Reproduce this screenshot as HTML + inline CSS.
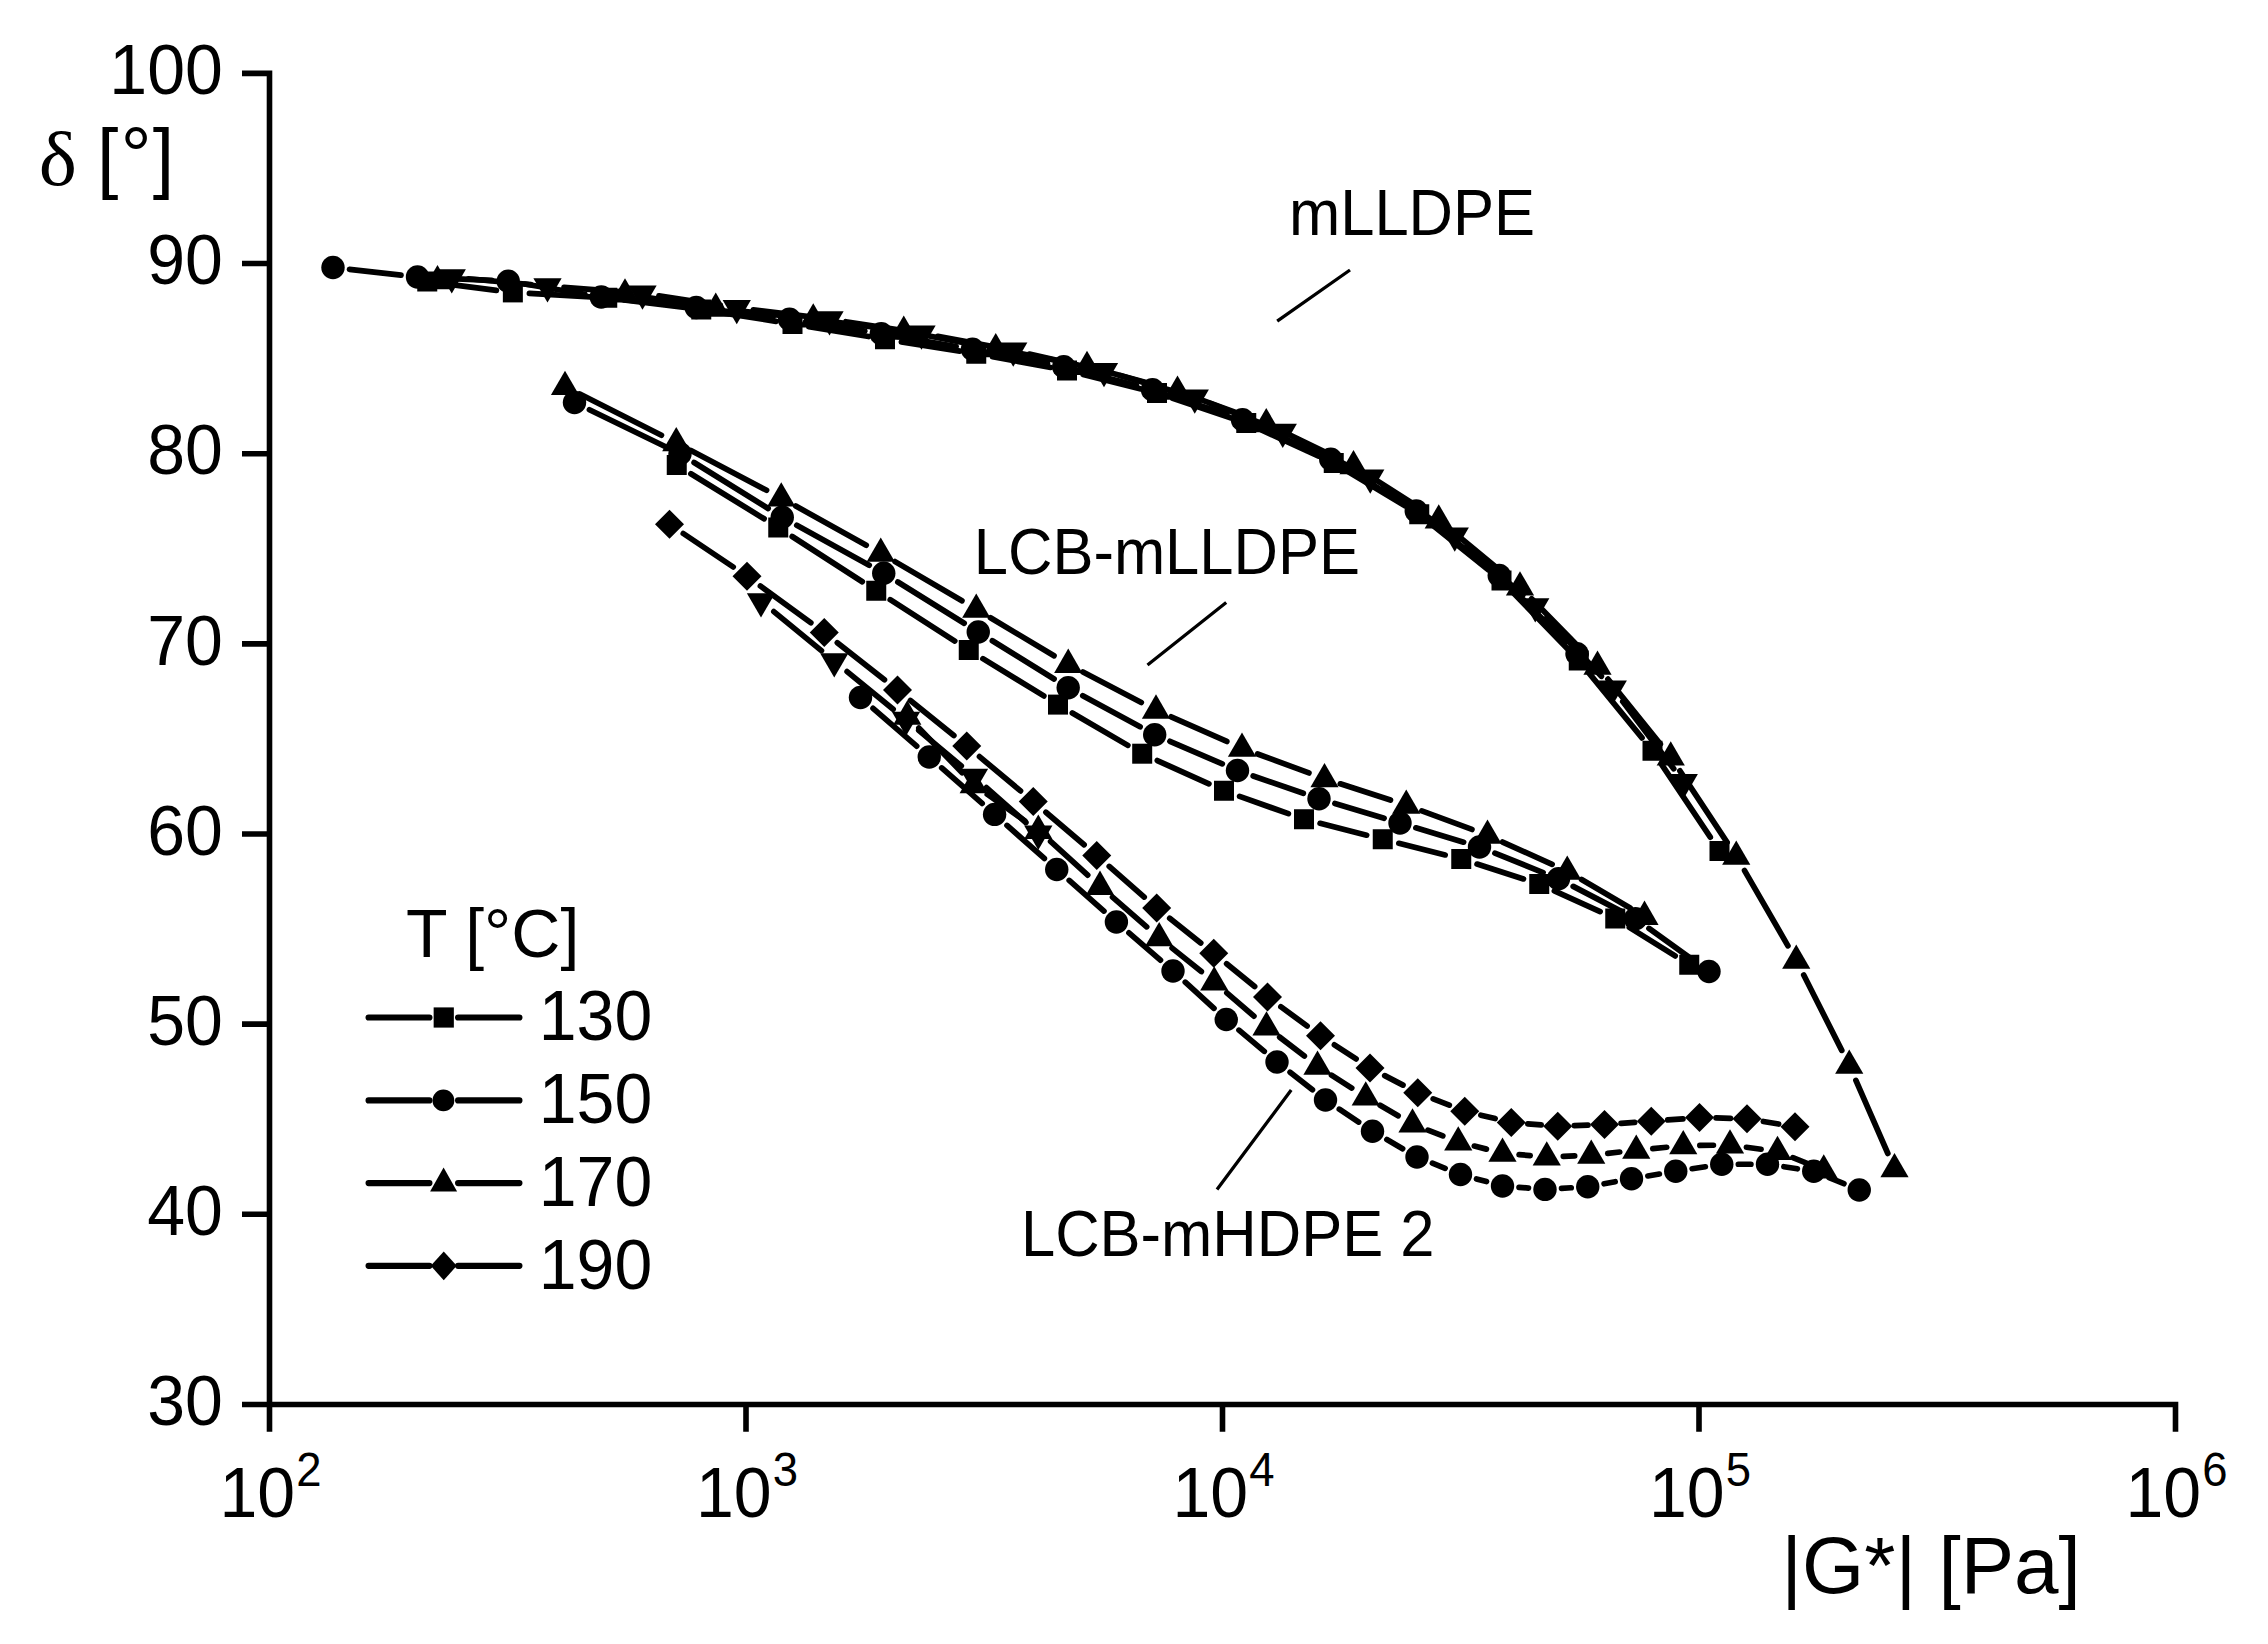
<!DOCTYPE html>
<html><head><meta charset="utf-8"><title>delta vs |G*|</title>
<style>
html,body{margin:0;padding:0;background:#fff;overflow:hidden}
svg{display:block}
.t{font-family:"Liberation Sans",Arial,Helvetica,sans-serif}
.ax{stroke:#000;stroke-width:5.6;fill:none;stroke-linecap:butt}
.ln{stroke:#000;stroke-width:5.7;fill:none;stroke-linecap:round}
.lg{stroke:#000;stroke-width:6.2;fill:none;stroke-linecap:round}
.ptr{stroke:#000;stroke-width:3.3;fill:none;stroke-linecap:butt}
</style></head><body>
<svg width="2268" height="1644" viewBox="0 0 2268 1644" fill="#000">
<rect width="2268" height="1644" fill="#fff"/>
<path class="ax" d="M269.5 70.55V1431.7M242 1404.45H2178.30M242 1214.30H269.5M242 1024.15H269.5M242 834.00H269.5M242 643.85H269.5M242 453.70H269.5M242 263.55H269.5M242 73.40H269.5M746.00 1404.45V1431.7M1222.50 1404.45V1431.7M1699.00 1404.45V1431.7M2175.50 1404.45V1431.7"/>
<text class="t" transform="translate(222.8 1425.2) scale(1 1.04)" font-size="68" text-anchor="end">30</text>
<text class="t" transform="translate(222.8 1235.0) scale(1 1.04)" font-size="68" text-anchor="end">40</text>
<text class="t" transform="translate(222.8 1044.9) scale(1 1.04)" font-size="68" text-anchor="end">50</text>
<text class="t" transform="translate(222.8 854.7) scale(1 1.04)" font-size="68" text-anchor="end">60</text>
<text class="t" transform="translate(222.8 664.6) scale(1 1.04)" font-size="68" text-anchor="end">70</text>
<text class="t" transform="translate(222.8 474.4) scale(1 1.04)" font-size="68" text-anchor="end">80</text>
<text class="t" transform="translate(222.8 284.2) scale(1 1.04)" font-size="68" text-anchor="end">90</text>
<text class="t" transform="translate(222.8 94.1) scale(1 1.04)" font-size="68" text-anchor="end">100</text>
<text class="t" transform="translate(219.5 1517.3) scale(1 1.04)" font-size="68">10</text>
<text class="t" transform="translate(296.3 1486.3) scale(1 1.04)" font-size="45.5">2</text>
<text class="t" transform="translate(696.0 1517.3) scale(1 1.04)" font-size="68">10</text>
<text class="t" transform="translate(772.8 1486.3) scale(1 1.04)" font-size="45.5">3</text>
<text class="t" transform="translate(1172.5 1517.3) scale(1 1.04)" font-size="68">10</text>
<text class="t" transform="translate(1249.3 1486.3) scale(1 1.04)" font-size="45.5">4</text>
<text class="t" transform="translate(1649.0 1517.3) scale(1 1.04)" font-size="68">10</text>
<text class="t" transform="translate(1725.8 1486.3) scale(1 1.04)" font-size="45.5">5</text>
<text class="t" transform="translate(2125.5 1517.3) scale(1 1.04)" font-size="68">10</text>
<text class="t" transform="translate(2202.3 1486.3) scale(1 1.04)" font-size="45.5">6</text>
<text transform="translate(38.7 185.2) scale(1 0.94)" font-family="'Liberation Serif','DejaVu Serif',serif" font-size="81">δ</text>
<text class="t" x="97.1 120.8 152.8" y="184.2 181.5 184.2" font-size="77">[°]</text>
<text class="t" x="1781.3" y="1593" font-size="80">|G*| [Pa]</text>
<text class="t" transform="translate(1289 235) scale(1 1.04)" font-size="61.5">mLLDPE</text>
<text class="t" transform="translate(973.8 573.7) scale(1 1.04)" font-size="61.5">LCB-mLLDPE</text>
<text class="t" transform="translate(1021 1255.7) scale(1 1.04)" font-size="61.5">LCB-mHDPE 2</text>
<path class="ptr" d="M1350 270L1277.2 321.2M1226.2 602.5L1147.5 665M1291.2 1090L1217 1189.5"/>
<text class="t" x="406" y="956.7" font-size="68">T [°C]</text>
<path class="lg" d="M368.6 1017.5H429.4M458.1 1017.5H519.4"/>
<text class="t" transform="translate(538.8 1040) scale(1 1.04)" font-size="68">130</text>
<path class="lg" d="M368.6 1100.4H429.4M458.1 1100.4H519.4"/>
<text class="t" transform="translate(538.8 1123) scale(1 1.04)" font-size="68">150</text>
<path class="lg" d="M368.6 1183.1H429.4M458.1 1183.1H519.4"/>
<text class="t" transform="translate(538.8 1206.2) scale(1 1.04)" font-size="68">170</text>
<path class="lg" d="M368.6 1265.85H429.4M458.1 1265.85H519.4"/>
<text class="t" transform="translate(538.8 1289.2) scale(1 1.04)" font-size="68">190</text>
<rect x="433.65" y="1007.40" width="20.2" height="20.2"/>
<circle cx="443.40" cy="1100.40" r="10.9"/>
<path d="M443.60 1167.60L457.10 1191.40L430.10 1191.40Z"/>
<path d="M443.75 1251.55L456.75 1265.85L443.75 1280.15L430.75 1265.85Z"/>
<path class="ln" d="M443.72 283.60L496.38 290.30M529.42 293.34L590.68 296.81M623.72 299.81L684.78 307.44M717.64 312.11L776.11 321.39M808.88 326.70L868.62 336.55M901.39 341.86L959.86 351.14M992.57 356.76L1050.68 367.49M1083.10 374.53L1140.90 388.97M1172.73 398.29L1230.52 417.71M1261.35 429.90L1318.65 456.10M1347.99 471.53L1405.01 505.72M1432.18 524.66L1488.57 570.09M1513.03 592.44L1567.22 648.56M1589.25 673.35L1642.00 737.90M1661.72 764.55L1710.28 837.20"/>
<rect x="417.25" y="271.50" width="20" height="20"/><rect x="502.85" y="282.40" width="20" height="20"/><rect x="597.25" y="287.75" width="20" height="20"/><rect x="691.25" y="299.50" width="20" height="20"/><rect x="782.50" y="314.00" width="20" height="20"/><rect x="875.00" y="329.25" width="20" height="20"/><rect x="966.25" y="343.75" width="20" height="20"/><rect x="1057.00" y="360.50" width="20" height="20"/><rect x="1147.00" y="383.00" width="20" height="20"/><rect x="1236.25" y="413.00" width="20" height="20"/><rect x="1323.75" y="453.00" width="20" height="20"/><rect x="1409.25" y="504.25" width="20" height="20"/><rect x="1491.50" y="570.50" width="20" height="20"/><rect x="1568.75" y="650.50" width="20" height="20"/><rect x="1642.50" y="740.75" width="20" height="20"/><rect x="1709.50" y="841.00" width="20" height="20"/>
<path class="ln" d="M349.50 269.35L401.00 275.15M434.08 277.78L491.67 280.47M524.62 284.02L584.88 294.23M617.75 298.82L679.75 305.68M712.72 309.58L773.03 317.17M805.90 321.84L864.85 331.16M897.62 336.53L956.13 346.47M988.80 352.38L1047.45 363.62M1079.82 370.91L1136.43 385.59M1168.25 395.00L1226.75 414.50M1257.65 426.53L1315.60 452.47M1344.95 467.85L1402.05 502.40M1429.36 521.19L1486.14 565.31M1510.95 587.28L1565.30 641.97"/>
<circle cx="333.00" cy="267.50" r="11.7"/><circle cx="417.50" cy="277.00" r="11.7"/><circle cx="508.25" cy="281.25" r="11.7"/><circle cx="601.25" cy="297.00" r="11.7"/><circle cx="696.25" cy="307.50" r="11.7"/><circle cx="789.50" cy="319.25" r="11.7"/><circle cx="881.25" cy="333.75" r="11.7"/><circle cx="972.50" cy="349.25" r="11.7"/><circle cx="1063.75" cy="366.75" r="11.7"/><circle cx="1152.50" cy="389.75" r="11.7"/><circle cx="1242.50" cy="419.75" r="11.7"/><circle cx="1330.75" cy="459.25" r="11.7"/><circle cx="1416.25" cy="511.00" r="11.7"/><circle cx="1499.25" cy="575.50" r="11.7"/><circle cx="1577.00" cy="653.75" r="11.7"/>
<path class="ln" d="M641.40 296.57L699.35 305.63M732.25 310.03L796.75 317.17M829.70 321.22L887.30 328.98M920.06 334.30L979.44 345.60M1012.04 351.88L1070.71 363.32M1103.01 370.87L1161.49 386.83M1193.09 396.91L1250.66 417.99M1281.21 430.90L1338.54 458.50M1367.50 474.62L1424.75 511.08M1451.56 530.56L1507.19 576.44M1531.61 598.86L1585.89 654.34M1607.92 679.12L1660.33 744.08M1679.90 770.85L1727.10 842.35M1744.55 870.58L1787.95 945.82M1803.73 975.02L1841.77 1050.38M1855.90 1080.41L1887.85 1153.49"/>
<path d="M437.50 264.90L451.60 289.30L423.40 289.30Z"/><path d="M625.00 278.20L639.10 302.60L610.90 302.60Z"/><path d="M715.75 292.40L729.85 316.80L701.65 316.80Z"/><path d="M813.25 303.20L827.35 327.60L799.15 327.60Z"/><path d="M903.75 315.40L917.85 339.80L889.65 339.80Z"/><path d="M995.75 332.90L1009.85 357.30L981.65 357.30Z"/><path d="M1087.00 350.70L1101.10 375.10L1072.90 375.10Z"/><path d="M1177.50 375.40L1191.60 399.80L1163.40 399.80Z"/><path d="M1266.25 407.90L1280.35 432.30L1252.15 432.30Z"/><path d="M1353.50 449.90L1367.60 474.30L1339.40 474.30Z"/><path d="M1438.75 504.20L1452.85 528.60L1424.65 528.60Z"/><path d="M1520.00 571.20L1534.10 595.60L1505.90 595.60Z"/><path d="M1597.50 650.40L1611.60 674.80L1583.40 674.80Z"/><path d="M1670.75 741.20L1684.85 765.60L1656.65 765.60Z"/><path d="M1736.25 840.40L1750.35 864.80L1722.15 864.80Z"/><path d="M1796.25 944.40L1810.35 968.80L1782.15 968.80Z"/><path d="M1849.25 1049.40L1863.35 1073.80L1835.15 1073.80Z"/><path d="M1894.50 1152.90L1908.60 1177.30L1880.40 1177.30Z"/>
<path class="ln" d="M468.28 278.75L530.97 284.65M564.05 287.45L625.95 292.15M658.91 295.92L720.34 305.38M753.23 309.91L813.02 317.19M845.91 321.73L905.09 330.87M937.82 336.42L996.93 347.38M1029.44 354.06L1087.81 367.24M1119.93 375.55L1178.82 392.75M1210.22 403.41L1267.28 425.59M1297.46 439.30L1355.54 469.70M1383.94 486.79L1441.06 526.01M1467.22 546.35L1522.78 595.15M1546.63 618.19L1601.37 676.31M1622.78 701.63L1673.72 768.77"/>
<path d="M451.75 293.60L465.90 269.30L437.60 269.30Z"/><path d="M547.50 302.60L561.65 278.30L533.35 278.30Z"/><path d="M642.50 309.80L656.65 285.50L628.35 285.50Z"/><path d="M736.75 324.30L750.90 300.00L722.60 300.00Z"/><path d="M829.50 335.60L843.65 311.30L815.35 311.30Z"/><path d="M921.50 349.80L935.65 325.50L907.35 325.50Z"/><path d="M1013.25 366.80L1027.40 342.50L999.10 342.50Z"/><path d="M1104.00 387.30L1118.15 363.00L1089.85 363.00Z"/><path d="M1194.75 413.80L1208.90 389.50L1180.60 389.50Z"/><path d="M1282.75 448.00L1296.90 423.70L1268.60 423.70Z"/><path d="M1370.25 493.80L1384.40 469.50L1356.10 469.50Z"/><path d="M1454.75 551.80L1468.90 527.50L1440.60 527.50Z"/><path d="M1535.25 622.50L1549.40 598.20L1521.10 598.20Z"/><path d="M1612.75 704.80L1626.90 680.50L1598.60 680.50Z"/><path d="M1683.75 798.40L1697.90 774.10L1669.60 774.10Z"/>
<path class="ln" d="M690.89 473.70L764.11 518.80M792.20 536.50L862.30 581.75M890.23 599.70L954.77 641.05M982.91 658.66L1043.84 695.94M1072.34 712.96L1127.86 745.34M1157.32 760.55L1208.88 783.90M1239.64 796.32L1288.36 813.68M1320.09 823.34L1366.66 835.16M1398.85 843.30L1445.15 854.95M1477.06 864.07L1523.44 878.93M1554.37 890.86L1600.13 911.64M1629.33 927.30L1675.17 955.95"/>
<rect x="666.75" y="455.00" width="20" height="20"/><rect x="768.25" y="517.50" width="20" height="20"/><rect x="866.25" y="580.75" width="20" height="20"/><rect x="958.75" y="640.00" width="20" height="20"/><rect x="1048.00" y="694.60" width="20" height="20"/><rect x="1132.20" y="743.70" width="20" height="20"/><rect x="1214.00" y="780.75" width="20" height="20"/><rect x="1294.00" y="809.25" width="20" height="20"/><rect x="1372.75" y="829.25" width="20" height="20"/><rect x="1451.25" y="849.00" width="20" height="20"/><rect x="1529.25" y="874.00" width="20" height="20"/><rect x="1605.25" y="908.50" width="20" height="20"/><rect x="1679.25" y="954.75" width="20" height="20"/>
<path class="ln" d="M589.43 409.75L665.07 446.50M694.10 462.51L768.15 508.49M796.78 525.27L869.22 565.23M897.85 582.01L964.15 623.24M992.36 640.75L1054.09 679.00M1082.79 695.67L1140.11 726.78M1169.94 741.29L1222.26 763.91M1253.18 775.94L1303.32 793.31M1334.90 803.51L1384.10 818.24M1415.89 827.80L1463.61 842.20M1494.90 853.19L1543.10 872.56M1573.23 886.40L1620.77 911.10M1648.99 928.43L1695.51 961.82"/>
<circle cx="574.50" cy="402.50" r="11.7"/><circle cx="680.00" cy="453.75" r="11.7"/><circle cx="782.25" cy="517.25" r="11.7"/><circle cx="883.75" cy="573.25" r="11.7"/><circle cx="978.25" cy="632.00" r="11.7"/><circle cx="1068.20" cy="687.75" r="11.7"/><circle cx="1154.70" cy="734.70" r="11.7"/><circle cx="1237.50" cy="770.50" r="11.7"/><circle cx="1319.00" cy="798.75" r="11.7"/><circle cx="1400.00" cy="823.00" r="11.7"/><circle cx="1479.50" cy="847.00" r="11.7"/><circle cx="1558.50" cy="878.75" r="11.7"/><circle cx="1635.50" cy="918.75" r="11.7"/><circle cx="1709.00" cy="971.50" r="11.7"/>
<path class="ln" d="M579.82 393.98L661.43 435.22M690.94 450.44L766.56 490.26M795.77 506.05L866.23 545.15M895.07 561.60L961.93 600.80M990.49 617.73L1054.01 655.77M1082.97 671.98L1141.28 702.42M1171.18 716.82L1226.82 741.48M1257.57 753.96L1308.93 772.94M1340.29 783.82L1390.46 800.08M1421.82 810.95L1471.93 829.45M1502.63 842.03L1552.12 864.37M1581.59 879.57L1630.16 907.93"/>
<path d="M565.00 370.70L579.10 395.10L550.90 395.10Z"/><path d="M676.25 426.90L690.35 451.30L662.15 451.30Z"/><path d="M781.25 482.20L795.35 506.60L767.15 506.60Z"/><path d="M880.75 537.40L894.85 561.80L866.65 561.80Z"/><path d="M976.25 593.40L990.35 617.80L962.15 617.80Z"/><path d="M1068.25 648.50L1082.35 672.90L1054.15 672.90Z"/><path d="M1156.00 694.30L1170.10 718.70L1141.90 718.70Z"/><path d="M1242.00 732.40L1256.10 756.80L1227.90 756.80Z"/><path d="M1324.50 762.90L1338.60 787.30L1310.40 787.30Z"/><path d="M1406.25 789.40L1420.35 813.80L1392.15 813.80Z"/><path d="M1487.50 819.40L1501.60 843.80L1473.40 843.80Z"/><path d="M1567.25 855.40L1581.35 879.80L1553.15 879.80Z"/><path d="M1644.50 900.50L1658.60 924.90L1630.40 924.90Z"/>
<path class="ln" d="M773.84 611.62L821.41 650.58M847.11 671.60L893.14 709.20M918.73 730.35L961.27 765.95M986.43 787.60L1025.87 822.50"/>
<path d="M761.00 617.50L775.15 593.20L746.85 593.20Z"/><path d="M834.25 677.50L848.40 653.20L820.10 653.20Z"/><path d="M906.00 736.10L920.15 711.80L891.85 711.80Z"/><path d="M974.00 793.00L988.15 768.70L959.85 768.70Z"/><path d="M1038.30 849.90L1052.45 825.60L1024.15 825.60Z"/>
<path class="ln" d="M873.05 708.36L916.70 746.14M941.72 767.95L982.13 803.45M1007.02 825.41L1044.33 858.49M1069.21 880.47L1103.94 911.03M1128.95 932.87L1160.45 960.13M1185.27 982.18L1213.98 1008.32M1238.98 1030.16L1264.27 1051.34M1290.07 1072.24L1312.43 1089.76M1339.32 1109.19L1358.68 1122.06M1386.87 1139.56L1402.63 1148.69M1432.40 1163.20L1445.10 1168.30M1476.51 1178.88L1486.49 1181.62M1519.05 1187.32L1528.45 1188.08M1561.57 1188.37L1571.18 1187.78M1604.08 1183.76L1615.17 1181.74M1647.87 1175.98L1659.38 1174.02M1692.16 1168.75L1705.34 1166.75M1738.35 1164.25L1750.90 1164.25M1783.91 1166.73L1797.34 1168.77M1829.10 1177.57L1843.90 1183.68"/>
<circle cx="860.50" cy="697.50" r="11.7"/><circle cx="929.25" cy="757.00" r="11.7"/><circle cx="994.60" cy="814.40" r="11.7"/><circle cx="1056.75" cy="869.50" r="11.7"/><circle cx="1116.40" cy="922.00" r="11.7"/><circle cx="1173.00" cy="971.00" r="11.7"/><circle cx="1226.25" cy="1019.50" r="11.7"/><circle cx="1277.00" cy="1062.00" r="11.7"/><circle cx="1325.50" cy="1100.00" r="11.7"/><circle cx="1372.50" cy="1131.25" r="11.7"/><circle cx="1417.00" cy="1157.00" r="11.7"/><circle cx="1460.50" cy="1174.50" r="11.7"/><circle cx="1502.50" cy="1186.00" r="11.7"/><circle cx="1545.00" cy="1189.40" r="11.7"/><circle cx="1587.75" cy="1186.75" r="11.7"/><circle cx="1631.50" cy="1178.75" r="11.7"/><circle cx="1675.75" cy="1171.25" r="11.7"/><circle cx="1721.75" cy="1164.25" r="11.7"/><circle cx="1767.50" cy="1164.25" r="11.7"/><circle cx="1813.75" cy="1171.25" r="11.7"/><circle cx="1859.25" cy="1190.00" r="11.7"/>
<path class="ln" d="M918.85 728.03L962.15 772.77M987.26 794.27L1024.74 820.73M1050.59 841.46L1087.71 875.14M1112.53 897.18L1146.67 926.82M1172.13 948.11L1201.32 971.59M1226.83 992.83L1253.92 1016.17M1279.66 1037.12L1304.34 1056.08M1331.49 1075.13L1351.76 1088.07M1380.12 1105.30L1398.13 1115.70M1427.95 1130.08L1442.80 1135.92M1474.34 1146.07L1486.41 1149.13M1519.04 1154.62L1530.21 1155.58M1563.34 1156.33L1574.66 1155.87M1607.75 1153.37L1619.75 1152.03M1652.77 1148.62L1666.73 1147.28M1699.85 1145.45L1713.40 1145.25M1746.45 1147.25L1761.05 1149.25M1792.91 1157.67L1808.34 1163.83"/>
<path d="M907.30 700.30L921.40 724.70L893.20 724.70Z"/><path d="M973.70 768.90L987.80 793.30L959.60 793.30Z"/><path d="M1038.30 814.50L1052.40 838.90L1024.20 838.90Z"/><path d="M1100.00 870.50L1114.10 894.90L1085.90 894.90Z"/><path d="M1159.20 921.90L1173.30 946.30L1145.10 946.30Z"/><path d="M1214.25 966.20L1228.35 990.60L1200.15 990.60Z"/><path d="M1266.50 1011.20L1280.60 1035.60L1252.40 1035.60Z"/><path d="M1317.50 1050.40L1331.60 1074.80L1303.40 1074.80Z"/><path d="M1365.75 1081.20L1379.85 1105.60L1351.65 1105.60Z"/><path d="M1412.50 1108.20L1426.60 1132.60L1398.40 1132.60Z"/><path d="M1458.25 1126.20L1472.35 1150.60L1444.15 1150.60Z"/><path d="M1502.50 1137.40L1516.60 1161.80L1488.40 1161.80Z"/><path d="M1546.75 1141.20L1560.85 1165.60L1532.65 1165.60Z"/><path d="M1591.25 1139.40L1605.35 1163.80L1577.15 1163.80Z"/><path d="M1636.25 1134.40L1650.35 1158.80L1622.15 1158.80Z"/><path d="M1683.25 1129.90L1697.35 1154.30L1669.15 1154.30Z"/><path d="M1730.00 1129.20L1744.10 1153.60L1715.90 1153.60Z"/><path d="M1777.50 1135.70L1791.60 1160.10L1763.40 1160.10Z"/><path d="M1823.75 1154.20L1837.85 1178.60L1809.65 1178.60Z"/>
<path class="ln" d="M683.28 533.50L733.22 567.00M760.42 586.02L810.83 622.73M837.31 642.75L884.44 679.75M910.41 700.44L953.84 735.56M979.49 756.64L1020.51 790.86M1045.90 812.25L1084.10 844.75M1109.24 866.44L1144.21 897.06M1169.71 918.32L1200.74 942.93M1226.62 963.73L1254.63 986.52M1280.90 1006.80L1307.10 1025.95M1334.41 1044.81L1356.09 1058.94M1384.74 1075.64L1403.01 1085.11M1433.20 1098.83L1449.30 1105.17M1480.88 1115.15L1495.12 1118.60M1527.80 1123.83L1541.20 1124.92M1574.34 1125.63L1587.91 1125.12M1621.06 1123.35L1634.69 1122.40M1667.80 1119.96L1682.95 1118.79M1716.09 1117.94L1730.41 1118.31M1763.37 1121.48L1778.63 1124.02"/>
<path d="M669.50 509.75L684.00 524.25L669.50 538.75L655.00 524.25Z"/><path d="M747.00 561.75L761.50 576.25L747.00 590.75L732.50 576.25Z"/><path d="M824.25 618.00L838.75 632.50L824.25 647.00L809.75 632.50Z"/><path d="M897.50 675.50L912.00 690.00L897.50 704.50L883.00 690.00Z"/><path d="M966.75 731.50L981.25 746.00L966.75 760.50L952.25 746.00Z"/><path d="M1033.25 787.00L1047.75 801.50L1033.25 816.00L1018.75 801.50Z"/><path d="M1096.75 841.00L1111.25 855.50L1096.75 870.00L1082.25 855.50Z"/><path d="M1156.70 893.50L1171.20 908.00L1156.70 922.50L1142.20 908.00Z"/><path d="M1213.75 938.75L1228.25 953.25L1213.75 967.75L1199.25 953.25Z"/><path d="M1267.50 982.50L1282.00 997.00L1267.50 1011.50L1253.00 997.00Z"/><path d="M1320.50 1021.25L1335.00 1035.75L1320.50 1050.25L1306.00 1035.75Z"/><path d="M1370.00 1053.50L1384.50 1068.00L1370.00 1082.50L1355.50 1068.00Z"/><path d="M1417.75 1078.25L1432.25 1092.75L1417.75 1107.25L1403.25 1092.75Z"/><path d="M1464.75 1096.75L1479.25 1111.25L1464.75 1125.75L1450.25 1111.25Z"/><path d="M1511.25 1108.00L1525.75 1122.50L1511.25 1137.00L1496.75 1122.50Z"/><path d="M1557.75 1111.75L1572.25 1126.25L1557.75 1140.75L1543.25 1126.25Z"/><path d="M1604.50 1110.00L1619.00 1124.50L1604.50 1139.00L1590.00 1124.50Z"/><path d="M1651.25 1106.75L1665.75 1121.25L1651.25 1135.75L1636.75 1121.25Z"/><path d="M1699.50 1103.00L1714.00 1117.50L1699.50 1132.00L1685.00 1117.50Z"/><path d="M1747.00 1104.25L1761.50 1118.75L1747.00 1133.25L1732.50 1118.75Z"/><path d="M1795.00 1112.25L1809.50 1126.75L1795.00 1141.25L1780.50 1126.75Z"/>
</svg>
</body></html>
